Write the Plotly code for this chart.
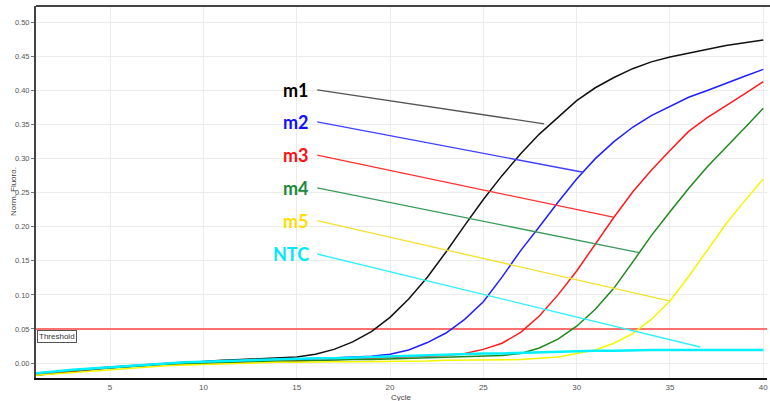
import plotly.graph_objects as go

cycles = list(range(1, 41))

m1 = [-0.018, -0.015, -0.012, -0.009, -0.007, -0.005, -0.003, -0.001, 0.001, 0.003,
      0.004, 0.005, 0.006, 0.007, 0.009, 0.013, 0.020, 0.031, 0.046, 0.067,
      0.094, 0.126, 0.163, 0.202, 0.240, 0.275, 0.307, 0.336, 0.361, 0.385,
      0.404, 0.419, 0.432, 0.442, 0.449, 0.455, 0.461, 0.466, 0.470, 0.474]
m2 = [-0.016, -0.013, -0.011, -0.008, -0.006, -0.004, -0.002, 0.000, 0.001, 0.002,
      0.003, 0.004, 0.004, 0.005, 0.005, 0.006, 0.007, 0.008, 0.010, 0.013,
      0.019, 0.030, 0.044, 0.064, 0.090, 0.126, 0.165, 0.200, 0.236, 0.270,
      0.300, 0.325, 0.346, 0.363, 0.377, 0.390, 0.400, 0.411, 0.421, 0.431]
m3 = [-0.017, -0.014, -0.011, -0.009, -0.007, -0.005, -0.003, -0.002, -0.001, 0.000,
      0.001, 0.002, 0.002, 0.003, 0.003, 0.004, 0.004, 0.005, 0.006, 0.007,
      0.008, 0.009, 0.011, 0.014, 0.020, 0.029, 0.045, 0.069, 0.100, 0.135,
      0.175, 0.214, 0.251, 0.283, 0.312, 0.340, 0.360, 0.377, 0.395, 0.413]
m4 = [-0.016, -0.013, -0.011, -0.009, -0.007, -0.005, -0.003, -0.002, -0.001, 0.000,
      0.001, 0.002, 0.002, 0.003, 0.003, 0.004, 0.004, 0.005, 0.005, 0.006,
      0.007, 0.007, 0.008, 0.009, 0.010, 0.011, 0.014, 0.022, 0.035, 0.054,
      0.079, 0.110, 0.148, 0.187, 0.222, 0.256, 0.288, 0.316, 0.345, 0.374]
m5 = [-0.018, -0.016, -0.013, -0.011, -0.009, -0.007, -0.005, -0.004, -0.003, -0.002,
      -0.001, 0.000, 0.000, 0.001, 0.001, 0.002, 0.002, 0.002, 0.002, 0.003,
      0.003, 0.003, 0.004, 0.004, 0.004, 0.004, 0.005, 0.007, 0.009, 0.014,
      0.019, 0.029, 0.043, 0.064, 0.091, 0.127, 0.165, 0.204, 0.238, 0.270]
ntc = [-0.015, -0.012, -0.010, -0.008, -0.006, -0.004, -0.002, -0.001, 0.001, 0.002,
       0.003, 0.004, 0.005, 0.006, 0.006, 0.007, 0.007, 0.008, 0.009, 0.010,
       0.011, 0.011, 0.012, 0.013, 0.014, 0.014, 0.015, 0.016, 0.016, 0.017,
       0.018, 0.018, 0.019, 0.019, 0.019, 0.019, 0.019, 0.019, 0.019, 0.019]

threshold = 0.05

series_names = ["m1", "m2", "m3", "m4", "m5", "NTC"]
series_values = [m1, m2, m3, m4, m5, ntc]
curve_colors = ["#111111", "#1f1fff", "#ff1a1a", "#1e8a1e", "#f5f500", "#00f0ff"]
curve_widths = [1.5, 1.5, 1.5, 1.5, 1.5, 2.5]
label_colors = ["#000000", "#1010ff", "#ff1010", "#1a8a3a", "#ffdd00", "#00e8ff"]
pointer_colors = ["#555555", "#4040ff", "#ff3030", "#3a9a5a", "#f5e030", "#30f0ff"]

# label anchor (y) and pointer target (x, y) in data units
label_y = [0.401, 0.354, 0.305, 0.257, 0.209, 0.160]
target_x = [28.26, 30.35, 31.96, 33.35, 35.01, 36.62]
target_y = [0.351, 0.280, 0.214, 0.162, 0.091, 0.0235]
label_x_right = 15.75
pointer_x_start = 16.1

x_range = [1.03, 40.2]
y_range = [-0.022, 0.524]

fig = go.Figure()

fig.add_trace(go.Scatter(x=x_range, y=[threshold, threshold], mode="lines",
                         line=dict(color="#ff7070", width=2), hoverinfo="skip",
                         showlegend=False))

for name, vals, col, w in zip(series_names, series_values, curve_colors, curve_widths):
    fig.add_trace(go.Scatter(x=cycles, y=vals, mode="lines", name=name,
                             line=dict(color=col, width=w), showlegend=False))

shapes = []
annotations = []
for name, ly, tx, ty, lc, pc in zip(series_names, label_y, target_x, target_y,
                                      label_colors, pointer_colors):
    shapes.append(dict(type="line", xref="x", yref="y", x0=pointer_x_start, y0=ly,
                       x1=tx, y1=ty, line=dict(color=pc, width=1.3)))
    annotations.append(dict(x=label_x_right, y=ly, xref="x", yref="y", text=f"<b>{name}</b>",
                            showarrow=False, xanchor="right", yanchor="middle",
                            font=dict(family="Lato, Open Sans, sans-serif", size=18, color=lc)))

annotations.append(dict(x=0, y=threshold, xref="paper", yref="y", text="Threshold",
                        showarrow=False, xanchor="left", yanchor="top", yshift=-1, xshift=1,
                        font=dict(family="Liberation Sans, Arial", size=8, color="#333333"),
                        bordercolor="#555555", borderwidth=1, borderpad=1, bgcolor="white"))

# axis titles
annotations.append(dict(x=0.5, y=0, xref="paper", yref="paper", text="Cycle",
                        showarrow=False, xanchor="center", yanchor="top", yshift=-13,
                        font=dict(family="Liberation Sans, Arial", size=8, color="#444444")))
annotations.append(dict(x=0, y=0.5, xref="paper", yref="paper", text="Norm. Fluoro.",
                        showarrow=False, xanchor="center", yanchor="middle", xshift=-23,
                        textangle=-90,
                        font=dict(family="Liberation Sans, Arial", size=8, color="#444444")))

# top border
shapes.append(dict(type="line", xref="paper", yref="paper", x0=0, x1=1.01, y0=1, y1=1,
                   line=dict(color="#444444", width=2)))

fig.update_layout(
    width=770, height=401,
    margin=dict(l=36, r=3, t=6, b=23, autoexpand=False),
    paper_bgcolor="white", plot_bgcolor="white",
    font=dict(family="Liberation Sans, Arial, sans-serif", size=8, color="#555555"),
    shapes=shapes, annotations=annotations,
)
fig.update_xaxes(range=x_range, tickvals=[5, 10, 15, 20, 25, 30, 35, 40],
                 showgrid=True, gridcolor="#ececec", gridwidth=1,
                 showline=True, linecolor="#111111", linewidth=2,
                 ticks="", zeroline=False, automargin=False,
                 tickfont=dict(size=8))
fig.update_yaxes(range=y_range, dtick=0.05, tick0=0, tickformat=".2f",
                 showgrid=True, gridcolor="#ececec", gridwidth=1,
                 showline=True, linecolor="#444444", linewidth=2,
                 ticks="outside", ticklen=3, tickcolor="#777777", zeroline=False,
                 automargin=False, tickfont=dict(size=7.5))

fig.write_html("out.html", config={"displayModeBar": False},
               post_script="document.body.style.margin='0';")
